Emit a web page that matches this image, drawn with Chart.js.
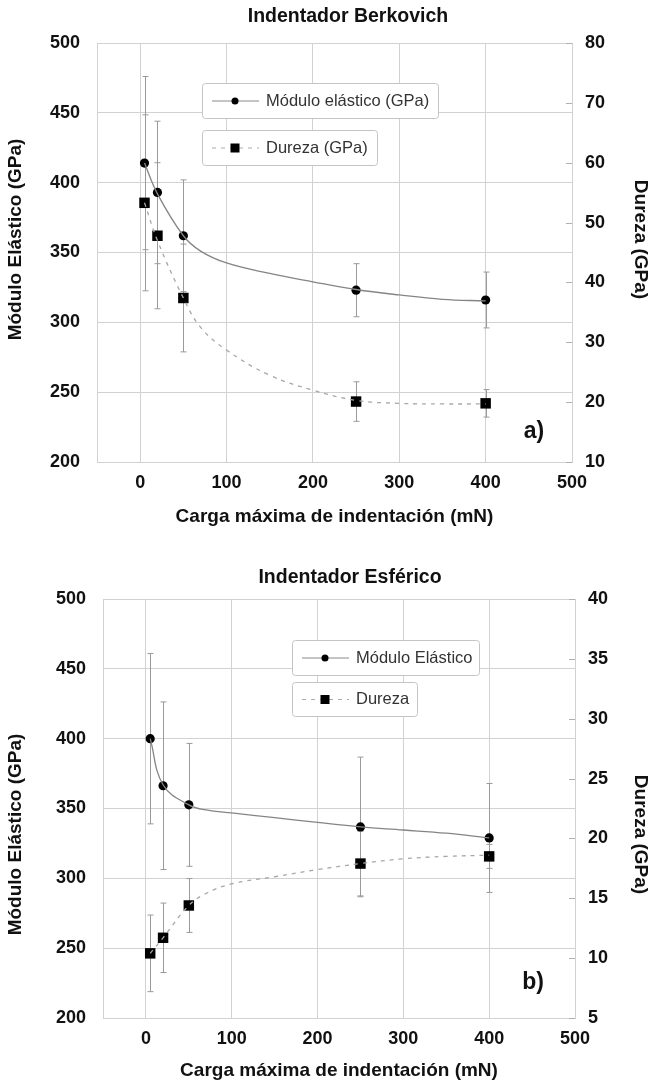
<!DOCTYPE html>
<html>
<head>
<meta charset="utf-8">
<script src="https://cdn.jsdelivr.net/npm/chart.js@4/dist/chart.umd.min.js"></script>
<style>
  html, body { margin: 0; padding: 0; background: #fff; }
  #wrap { position: relative; width: 651px; height: 1086px; }
  .panel { position: absolute; left: 0; width: 651px; }
</style>
</head>
<body>
<div id="wrap">
  <div class="panel" style="top:0;height:540px"><canvas id="berkovich"></canvas></div>
  <div class="panel" style="top:545px;height:541px"><canvas id="esferico"></canvas></div>
</div>
<script>
// Cargas máximas ensayadas (mN) y marcas de los ejes
const cargas = [5, 20, 50, 250, 400];
const cargaTicks = [0, 100, 200, 300, 400, 500];
const moduloTicks = [200, 250, 300, 350, 400, 450, 500];
const berkDurezaTicks = [10, 20, 30, 40, 50, 60, 70, 80];
const esfDurezaTicks = [5, 10, 15, 20, 25, 30, 35, 40];

// Indentador Berkovich: valores medios y desviaciones
const berkModulo = [414, 393, 362, 323, 316];
const berkModuloErr = [62, 51, 40, 19, 20];
const berkDureza = [53.3, 47.8, 37.4, 20.1, 19.8];
const berkDurezaErr = [14.7, 12.2, 9.0, 3.3, 2.3];

// Indentador esférico: valores medios y desviaciones
const esfModulo = [400, 366.3, 352.6, 336.8, 328.9];
const esfModuloErr = [61, 60, 44, 50, 39];
const esfDureza = [10.4, 11.7, 14.4, 17.9, 18.5];
const esfDurezaErr = [3.2, 2.9, 2.25, 2.7, 1.0];

// Curvas de tendencia
const ajusteCargas = [5, 20, 50, 70, 100, 150, 200, 250, 300, 350, 400];
const berkModuloAjuste = [414, 392, 362, 351, 342.5, 335, 329, 323.5, 319.6, 316.5, 315.3];
const berkDurezaAjuste = [53.3, 47, 37.4, 32.5, 28.7, 24.5, 22, 20.3, 19.8, 19.7, 19.7];
const esfModuloAjuste = [400, 367, 352.6, 349, 346.8, 343.5, 340, 336.8, 334.6, 332.3, 329];
const esfDurezaAjuste = [10.4, 11.7, 14.4, 15.4, 16.2, 16.8, 17.4, 17.9, 18.3, 18.5, 18.6];

const FONT = "'Liberation Sans', Arial, sans-serif";
const GRID = '#d2d2d2';
const INK = '#111';

const pares = (xs, ys) => xs.map((x, i) => ({ x: x, y: ys[i] }));
const fijarTicks = lista => scale => { scale.ticks = lista.map(v => ({ value: v })); };

// Barras de error verticales con remates
const barrasError = {
  id: 'barrasError',
  beforeDatasetsDraw(chart) {
    const ctx = chart.ctx;
    ctx.save();
    ctx.strokeStyle = '#9a9a9a';
    ctx.lineWidth = 1;
    chart.data.datasets.forEach(ds => {
      if (!ds.errores) return;
      const ys = chart.scales[ds.yAxisID];
      const xs = chart.scales.x;
      ds.data.forEach((p, i) => {
        const e = ds.errores[i];
        const px = Math.round(xs.getPixelForValue(p.x)) + 0.5;
        const y1 = ys.getPixelForValue(p.y + e);
        const y2 = ys.getPixelForValue(p.y - e);
        ctx.beginPath();
        ctx.moveTo(px, y1); ctx.lineTo(px, y2);
        ctx.moveTo(px - 3, y1); ctx.lineTo(px + 3, y1);
        ctx.moveTo(px - 3, y2); ctx.lineTo(px + 3, y2);
        ctx.stroke();
      });
    });
    ctx.restore();
  }
};

// Marcas del eje derecho hacia el interior del área de trazado
const marcasDerecha = {
  id: 'marcasDerecha',
  afterDatasetsDraw(chart) {
    const ctx = chart.ctx;
    const s = chart.scales.y1;
    const r = chart.chartArea.right;
    ctx.save();
    ctx.strokeStyle = '#b0b0b0';
    ctx.lineWidth = 1;
    s.ticks.forEach(t => {
      const py = Math.round(s.getPixelForValue(t.value)) + 0.5;
      ctx.beginPath();
      ctx.moveTo(r - 6, py); ctx.lineTo(r, py);
      ctx.stroke();
    });
    ctx.restore();
  }
};

// Títulos, leyendas en recuadros separados y rótulo del panel
const rotulos = {
  id: 'rotulos',
  afterDraw(chart, args, opts) {
    const ctx = chart.ctx;
    const area = chart.chartArea;
    const medio = (area.top + area.bottom) / 2;
    ctx.save();
    ctx.fillStyle = INK;
    ctx.textAlign = 'center';
    ctx.textBaseline = 'middle';
    if (opts.titulo) {
      ctx.font = 'bold 19.5px ' + FONT;
      ctx.fillText(opts.titulo.texto, opts.titulo.x, opts.titulo.y);
    }
    // títulos de los ejes verticales
    ctx.font = 'bold 19px ' + FONT;
    (opts.ejes || []).forEach(e => {
      ctx.save();
      ctx.translate(e.x, medio + e.dy);
      ctx.rotate(e.giro * Math.PI / 2);
      ctx.fillText(e.texto, 0, 0);
      ctx.restore();
    });
    (opts.cajas || []).forEach(c => {
      ctx.fillStyle = '#fff';
      ctx.strokeStyle = '#c4c4c4';
      ctx.lineWidth = 1;
      ctx.beginPath();
      ctx.roundRect(c.x + 0.5, c.y + 0.5, c.w, c.h, 3);
      ctx.fill();
      ctx.stroke();
      const cy = c.y + c.h / 2 + 0.5;
      ctx.strokeStyle = c.dash ? '#aaaaaa' : '#8a8a8a';
      ctx.setLineDash(c.dash ? [4, 5] : []);
      ctx.beginPath();
      ctx.moveTo(c.x + 10, cy); ctx.lineTo(c.x + 57, cy);
      ctx.stroke();
      ctx.setLineDash([]);
      ctx.fillStyle = '#000';
      if (c.marca === 'circle') {
        ctx.beginPath(); ctx.arc(c.x + 33, cy, 3.5, 0, Math.PI * 2); ctx.fill();
      } else {
        ctx.fillRect(c.x + 28.5, cy - 4.5, 9, 9);
      }
      ctx.fillStyle = '#333';
      ctx.font = '16.5px ' + FONT;
      ctx.textBaseline = 'middle';
      ctx.textAlign = 'left';
      ctx.fillText(c.texto, c.x + 64, cy);
    });
    if (opts.panel) {
      ctx.fillStyle = INK;
      ctx.font = 'bold 23px ' + FONT;
      ctx.textAlign = 'center';
      ctx.textBaseline = 'middle';
      ctx.fillText(opts.panel.texto, opts.panel.x, opts.panel.y);
    }
    ctx.restore();
  }
};

function grafico(id, o) {
  return new Chart(document.getElementById(id), {
    type: 'scatter',
    data: {
      datasets: [
        { label: 'ajuste módulo', data: pares(ajusteCargas, o.modAjuste), yAxisID: 'y',
          showLine: true, borderColor: '#858585', borderWidth: 1.3, pointRadius: 0,
          tension: 0.4, fill: false },
        { label: 'ajuste dureza', data: pares(ajusteCargas, o.durAjuste), yAxisID: 'y1',
          showLine: true, borderColor: '#a8a8a8', borderWidth: 1.3, borderDash: [4, 5], pointRadius: 0,
          tension: 0.4, fill: false },
        { label: o.etiqMod, data: pares(cargas, o.mod), errores: o.modErr, yAxisID: 'y',
          showLine: false, pointStyle: 'circle', pointRadius: 4.6,
          backgroundColor: '#000', borderColor: '#000', borderWidth: 0 },
        { label: o.etiqDur, data: pares(cargas, o.dur), errores: o.durErr, yAxisID: 'y1',
          showLine: false, pointStyle: 'rect', pointRadius: 7.4,
          backgroundColor: '#000', borderColor: '#000', borderWidth: 0 }
      ]
    },
    plugins: [barrasError, marcasDerecha, rotulos],
    options: {
      responsive: true,
      maintainAspectRatio: false,
      animation: false,
      layout: { padding: { top: o.arriba, left: 0, right: 0, bottom: 0 } },
      plugins: {
        legend: { display: false },
        tooltip: { enabled: false },
        title: { display: false },
        rotulos: {
          titulo: o.titulo, cajas: o.cajas, panel: o.panel,
          ejes: [
            { texto: 'Módulo Elástico (GPa)', x: 16, dy: o.dyEjes, giro: -1 },
            { texto: 'Dureza (GPa)', x: 640, dy: o.dyEjes, giro: 1 }
          ]
        }
      },
      scales: {
        x: {
          type: 'linear', min: -50, max: 500,
          afterBuildTicks: fijarTicks(cargaTicks),
          afterFit: s => { s.height = o.altoX; },
          grid: { color: GRID, drawTicks: false },
          border: { color: GRID },
          ticks: { padding: 10, color: INK, font: { family: FONT, size: 18, weight: 'bold' } },
          title: { display: true, text: 'Carga máxima de indentación (mN)', color: INK,
                   font: { family: FONT, size: 19, weight: 'bold' }, padding: { top: 0, bottom: o.padTituloX } }
        },
        y: {
          position: 'left', min: 200, max: 500,
          afterBuildTicks: fijarTicks(moduloTicks),
          afterFit: s => { s.width = o.anchoIzq; },
          grid: { color: GRID, drawTicks: false },
          border: { color: GRID },
          ticks: { padding: 17, color: INK, font: { family: FONT, size: 18, weight: 'bold' } },
          title: { display: false }
        },
        y1: {
          position: 'right', min: o.durMin, max: o.durMax,
          afterBuildTicks: fijarTicks(o.durTicks),
          afterFit: s => { s.width = o.anchoDer; },
          grid: { drawOnChartArea: false, drawTicks: false },
          border: { display: false },
          ticks: { padding: 13, color: INK, font: { family: FONT, size: 18, weight: 'bold' } },
          title: { display: false }
        }
      }
    }
  });
}

grafico('berkovich', {
  titulo: { texto: 'Indentador Berkovich', x: 348, y: 17 },
  arriba: 43, dyEjes: -13,
  mod: berkModulo, modErr: berkModuloErr, modAjuste: berkModuloAjuste,
  dur: berkDureza, durErr: berkDurezaErr, durAjuste: berkDurezaAjuste,
  durMin: 10, durMax: 80, durTicks: berkDurezaTicks,
  etiqMod: 'Módulo elástico (GPa)', etiqDur: 'Dureza (GPa)',
  altoX: 78, padTituloX: 11.6, anchoIzq: 97, anchoDer: 79,
  cajas: [
    { x: 202, y: 83, w: 236, h: 35, texto: 'Módulo elástico (GPa)', marca: 'circle', dash: false },
    { x: 202, y: 130, w: 175, h: 35, texto: 'Dureza (GPa)', marca: 'rect', dash: true }
  ],
  panel: { texto: 'a)', x: 534, y: 432 }
});

grafico('esferico', {
  titulo: { texto: 'Indentador Esférico', x: 350, y: 33 },
  arriba: 54, dyEjes: 26,
  mod: esfModulo, modErr: esfModuloErr, modAjuste: esfModuloAjuste,
  dur: esfDureza, durErr: esfDurezaErr, durAjuste: esfDurezaAjuste,
  durMin: 5, durMax: 40, durTicks: esfDurezaTicks,
  etiqMod: 'Módulo Elástico', etiqDur: 'Dureza',
  altoX: 68, padTituloX: 3.6, anchoIzq: 103, anchoDer: 76,
  cajas: [
    { x: 292, y: 95, w: 187, h: 35, texto: 'Módulo Elástico', marca: 'circle', dash: false },
    { x: 292, y: 137, w: 125, h: 34, texto: 'Dureza', marca: 'rect', dash: true }
  ],
  panel: { texto: 'b)', x: 533, y: 438 }
});
</script>
</body>
</html>
